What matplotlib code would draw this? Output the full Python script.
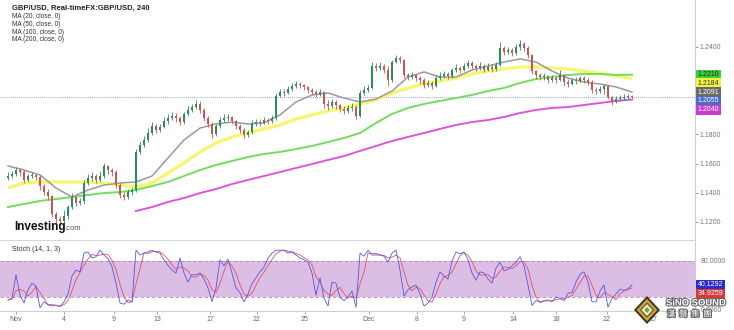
import numpy as np
import pandas as pd
import matplotlib
matplotlib.use("Agg")
import matplotlib.pyplot as plt
import matplotlib.transforms as mtransforms
import matplotlib.patheffects as pe
from matplotlib.patches import Polygon

plt.rcParams["font.family"] = ["Liberation Sans", "DejaVu Sans"]

# GBP/USD 4h bars (open of each bar = previous close)
first_open = 1.1501
close = [
    1.1515, 1.1529, 1.1556, 1.1542, 1.1488, 1.1515, 1.1522, 1.1508, 1.1446, 1.1405,
    1.1378, 1.1254, 1.1220, 1.1206, 1.1241, 1.1302, 1.1371, 1.1330, 1.1344, 1.1467,
    1.1501, 1.1515, 1.1488, 1.1515, 1.1584, 1.1556, 1.1542, 1.1453, 1.1385, 1.1371,
    1.1405, 1.1419, 1.1680, 1.1728, 1.1762, 1.1810, 1.1858, 1.1831, 1.1851, 1.1892,
    1.1913, 1.1927, 1.1913, 1.1885, 1.1940, 1.1968, 1.1988, 1.2009, 1.1968, 1.1913,
    1.1872, 1.1803, 1.1858, 1.1899, 1.1913, 1.1920, 1.1892, 1.1858, 1.1831, 1.1796,
    1.1817, 1.1872, 1.1885, 1.1879, 1.1899, 1.1892, 1.1913, 1.2064, 1.2091, 1.2084,
    1.2112, 1.2132, 1.2146, 1.2139, 1.2126, 1.2105, 1.2091, 1.2078, 1.2091, 1.2009,
    1.1995, 1.2023, 1.2002, 1.1975, 1.1961, 1.1982, 1.1988, 1.1927, 1.2084, 1.2105,
    1.2119, 1.2270, 1.2256, 1.2270, 1.2242, 1.2174, 1.2297, 1.2325, 1.2311, 1.2208,
    1.2194, 1.2208, 1.2187, 1.2174, 1.2139, 1.2153, 1.2132, 1.2187, 1.2201, 1.2215,
    1.2201, 1.2242, 1.2256, 1.2242, 1.2270, 1.2290, 1.2270, 1.2256, 1.2270, 1.2242,
    1.2263, 1.2249, 1.2277, 1.2393, 1.2366, 1.2379, 1.2359, 1.2400, 1.2421, 1.2393,
    1.2345, 1.2235, 1.2208, 1.2194, 1.2201, 1.2174, 1.2187, 1.2174, 1.2208, 1.2160,
    1.2146, 1.2174, 1.2167, 1.2187, 1.2174, 1.2160, 1.2105, 1.2098, 1.2112, 1.2132,
    1.2057, 1.2023, 1.2043, 1.2050, 1.2057, 1.2064, 1.2055,
]
high = [
    1.1542, 1.1549, 1.1577, 1.1570, 1.1556, 1.1529, 1.1542, 1.1529, 1.1522, 1.1460,
    1.1426, 1.1385, 1.1268, 1.1241, 1.1282, 1.1316, 1.1398, 1.1378, 1.1364, 1.1488,
    1.1529, 1.1542, 1.1529, 1.1549, 1.1604, 1.1591, 1.1570, 1.1556, 1.1467, 1.1405,
    1.1426, 1.1440, 1.1700, 1.1755, 1.1789, 1.1844, 1.1885, 1.1872, 1.1872, 1.1920,
    1.1940, 1.1954, 1.1947, 1.1927, 1.1954, 1.1995, 1.2009, 1.2036, 1.2030, 1.1982,
    1.1927, 1.1885, 1.1872, 1.1920, 1.1940, 1.1940, 1.1927, 1.1899, 1.1872, 1.1844,
    1.1831, 1.1899, 1.1906, 1.1906, 1.1920, 1.1913, 1.1934, 1.2084, 1.2112, 1.2112,
    1.2132, 1.2153, 1.2167, 1.2160, 1.2146, 1.2132, 1.2119, 1.2105, 1.2112, 1.2098,
    1.2036, 1.2043, 1.2036, 1.2009, 1.1995, 1.2002, 1.2016, 1.2002, 1.2105, 1.2132,
    1.2139, 1.2297, 1.2290, 1.2297, 1.2283, 1.2270, 1.2311, 1.2345, 1.2338, 1.2318,
    1.2222, 1.2229, 1.2215, 1.2201, 1.2187, 1.2174, 1.2167, 1.2208, 1.2229, 1.2235,
    1.2229, 1.2256, 1.2283, 1.2270, 1.2290, 1.2311, 1.2304, 1.2283, 1.2297, 1.2283,
    1.2290, 1.2283, 1.2297, 1.2434, 1.2407, 1.2400, 1.2393, 1.2421, 1.2448, 1.2434,
    1.2407, 1.2352, 1.2242, 1.2222, 1.2222, 1.2208, 1.2208, 1.2201, 1.2242, 1.2215,
    1.2180, 1.2187, 1.2194, 1.2201, 1.2201, 1.2187, 1.2174, 1.2126, 1.2132, 1.2146,
    1.2139, 1.2064, 1.2064, 1.2071, 1.2078, 1.2078, 1.2071,
]
low = [
    1.1488, 1.1501, 1.1515, 1.1515, 1.1467, 1.1474, 1.1501, 1.1488, 1.1419, 1.1385,
    1.1350, 1.1234, 1.1193, 1.1179, 1.1193, 1.1220, 1.1289, 1.1309, 1.1316, 1.1323,
    1.1453, 1.1481, 1.1467, 1.1474, 1.1501, 1.1529, 1.1515, 1.1433, 1.1364, 1.1350,
    1.1357, 1.1385, 1.1405, 1.1666, 1.1714, 1.1748, 1.1796, 1.1810, 1.1817, 1.1844,
    1.1872, 1.1899, 1.1885, 1.1865, 1.1872, 1.1927, 1.1954, 1.1975, 1.1947, 1.1892,
    1.1851, 1.1776, 1.1789, 1.1844, 1.1885, 1.1892, 1.1872, 1.1838, 1.1810, 1.1776,
    1.1783, 1.1803, 1.1858, 1.1858, 1.1872, 1.1872, 1.1879, 1.1899, 1.2057, 1.2064,
    1.2078, 1.2098, 1.2119, 1.2119, 1.2105, 1.2084, 1.2071, 1.2057, 1.2064, 1.1982,
    1.1968, 1.1982, 1.1975, 1.1954, 1.1940, 1.1947, 1.1961, 1.1906, 1.1920, 1.2071,
    1.2091, 1.2112, 1.2235, 1.2242, 1.2222, 1.2132, 1.2160, 1.2290, 1.2290, 1.2187,
    1.2174, 1.2180, 1.2167, 1.2146, 1.2119, 1.2126, 1.2112, 1.2126, 1.2174, 1.2187,
    1.2180, 1.2187, 1.2229, 1.2222, 1.2235, 1.2256, 1.2249, 1.2235, 1.2242, 1.2229,
    1.2235, 1.2229, 1.2235, 1.2270, 1.2345, 1.2352, 1.2338, 1.2345, 1.2379, 1.2373,
    1.2325, 1.2215, 1.2180, 1.2174, 1.2174, 1.2153, 1.2160, 1.2153, 1.2167, 1.2132,
    1.2126, 1.2139, 1.2146, 1.2160, 1.2153, 1.2139, 1.2084, 1.2078, 1.2084, 1.2078,
    1.2043, 1.2002, 1.2016, 1.2030, 1.2036, 1.2043, 1.2043,
]

# moving averages, one value every 4th bar
ma_step = 4
ma20 = [1.1584, 1.1556, 1.1522, 1.1433, 1.1371, 1.1419, 1.1453, 1.1467, 1.1474, 1.1515,
        1.1639, 1.1762, 1.1844, 1.1872, 1.1885, 1.1872, 1.1879, 1.1934, 1.2023, 1.2071,
        1.2084, 1.2050, 1.2023, 1.2043, 1.2098, 1.2194, 1.2229, 1.2194, 1.2194, 1.2242,
        1.2270, 1.2297, 1.2318, 1.2297, 1.2235, 1.2187, 1.2160, 1.2146, 1.2126, 1.2091]
ma50 = [1.1433, 1.1467, 1.1474, 1.1474, 1.1474, 1.1474, 1.1467, 1.1453, 1.1440, 1.1467,
        1.1536, 1.1604, 1.1680, 1.1741, 1.1783, 1.1810, 1.1838, 1.1865, 1.1906, 1.1934,
        1.1961, 1.1982, 1.2009, 1.2036, 1.2084, 1.2119, 1.2146, 1.2167, 1.2187, 1.2215,
        1.2235, 1.2249, 1.2263, 1.2263, 1.2256, 1.2249, 1.2235, 1.2222, 1.2201, 1.2184]
ma100 = [1.1302, 1.1323, 1.1344, 1.1357, 1.1371, 1.1385, 1.1398, 1.1405, 1.1419, 1.1446,
         1.1474, 1.1515, 1.1556, 1.1591, 1.1618, 1.1645, 1.1666, 1.1680, 1.1700, 1.1721,
         1.1748, 1.1776, 1.1810, 1.1879, 1.1940, 1.1982, 1.2009, 1.2030, 1.2050, 1.2071,
         1.2098, 1.2119, 1.2153, 1.2180, 1.2194, 1.2208, 1.2215, 1.2215, 1.2208, 1.2210]
ma200 = [np.nan] * 8 + [
         1.1275, 1.1302, 1.1337, 1.1364, 1.1398, 1.1426, 1.1460, 1.1488, 1.1515, 1.1542,
         1.1570, 1.1597, 1.1625, 1.1652, 1.1687, 1.1721, 1.1755, 1.1783, 1.1810, 1.1838,
         1.1865, 1.1885, 1.1899, 1.1920, 1.1947, 1.1968, 1.1982, 1.1988, 1.2002, 1.2016,
         1.2030, 1.2040]

# Stoch (14, 1, 3) %K per bar
stoch_k = [
    15, 18, 57, 23, 10, 32, 43, 38, 2, 12,
    7, 5, 6, 4, 12, 25, 55, 65, 62, 93,
    95, 85, 87, 98, 90, 84, 70, 43, 10, 8,
    15, 12, 98, 90, 93, 95, 98, 95, 93, 82,
    73, 65, 60, 85, 60, 45, 57, 57, 60, 50,
    35, 12, 35, 82, 72, 83, 60, 35, 27, 12,
    25, 42, 52, 62, 70, 85, 93, 98, 98, 98,
    93, 95, 90, 85, 82, 78, 60, 23, 52, 18,
    5, 45, 43, 20, 14, 20, 30, 3, 93, 88,
    98, 90, 90, 90, 88, 78, 93, 98, 65, 22,
    32, 37, 40, 25, 5, 10, 20, 45, 62, 55,
    50, 80, 95, 92, 95, 82, 60, 48, 62, 60,
    50, 43, 68, 78, 64, 66, 72, 78, 87, 72,
    40, 6, 14, 12, 14, 15, 12, 20, 18, 14,
    26, 28, 45, 58, 62, 45, 12, 12, 30, 40,
    3, 18, 25, 33, 31.0, 33.6485, 40.1292,
]

date_labels = ["Nov", "4", "9", "13", "17", "22", "25", "Dec", "8", "9", "14", "18", "22", "27"]
date_bars = [2, 14, 26.5, 37.25, 50.5, 62.25, 74.25, 90.25, 102.25, 114, 126.25, 137, 149.75, 161.5]
price_ticks = [1.12, 1.14, 1.16, 1.18, 1.24]
stoch_ticks = [0, 80]
ma_names = ["MA (20, close, 0)", "MA (50, close, 0)", "MA (100, close, 0)", "MA (200, close, 0)"]

W, H = 734, 330
fig = plt.figure(figsize=(W / 100, H / 100), dpi=100)
fig.patch.set_facecolor("white")


def fx(px):
    return px / W


def fy(py):
    return 1 - py / H


ax = fig.add_axes([0, fy(240), fx(695), 240 / H])
sx = fig.add_axes([0, fy(311), fx(695), 70 / H], sharex=ax)

# ---- price panel ----
c = np.array(close)
o = np.r_[first_open, c[:-1]]
hi = np.maximum(np.array(high), np.maximum(o, c))
lo = np.minimum(np.array(low), np.minimum(o, c))
x = np.arange(len(c))
up = c >= o
col = np.where(up, "#2f8a5c", "#c8554f")

ma_x = np.arange(0, len(c), ma_step)
ax.plot(ma_x, ma50, color="#f7f56a", lw=2.4, alpha=0.95, zorder=2, solid_capstyle="butt")
ax.plot(ma_x, ma100, color="#72dc5f", lw=1.4, zorder=2)
ax.plot(ma_x, ma200, color="#dc55dc", lw=1.4, zorder=2)
ax.plot(ma_x, ma20, color="#9a9a9a", lw=1.1, zorder=2)

ax.vlines(x, lo, hi, colors=col, lw=0.6, zorder=3)
body = np.maximum(np.abs(c - o), 0.00025)
ax.bar(x, body, bottom=np.minimum(o, c), width=0.62, color=col, lw=0, zorder=4)

ax.axhline(c[-1], color="#6a86b8", lw=0.6, ls=(0, (1, 1.5)), zorder=1)

ax.set_xlim(-2, 171.75)
ax.set_ylim(1.27224 - 0.000686 * 240, 1.27224)
ax.yaxis.tick_right()
ax.set_yticks(price_ticks)
ax.set_yticklabels([f"{t:.4f}" for t in price_ticks])
ax.tick_params(axis="y", length=2, width=0.6, color="#888888", labelsize=5,
               labelcolor="#777777", pad=1.5)
ax.tick_params(axis="x", bottom=False, labelbottom=False)
for s in ["top", "left"]:
    ax.spines[s].set_visible(False)
ax.spines["right"].set_color("#cfcfcf")
ax.spines["bottom"].set_color("#d6d6d6")
ax.spines["right"].set_linewidth(0.8)
ax.spines["bottom"].set_linewidth(0.8)

# value boxes on the price scale, stacked so they do not overlap
tr = mtransforms.blended_transform_factory(ax.transAxes, ax.transData)
boxes = [(ma100[-1], "#3dcc3d", "#222222"), (ma50[-1], "#f2f23a", "#333333"),
         (ma20[-1], "#6a6a6a", "white"), (c[-1], "#4b6cc0", "white"),
         (ma200[-1], "#c93ccf", "white")]
gap = 0.0060
prev = None
for val, bg, fg in boxes:
    pos = val if prev is None else min(val, prev - gap)
    prev = pos
    ax.text(1.004, pos, f"{val:.4f}", transform=tr, fontsize=5, color=fg,
            va="center", ha="left", clip_on=False, zorder=6,
            bbox=dict(boxstyle="square,pad=0.22", fc=bg, ec="none"))

# ---- stochastic panel ----
k = pd.Series(stoch_k, dtype=float)
d = k.rolling(3, min_periods=1).mean()
sx.axhspan(20, 80, color="#dcbde3", lw=0, zorder=0)
for lvl in (20, 80):
    sx.axhline(lvl, color="#a98aa8", lw=0.6, ls=(0, (4, 3)), zorder=1)
sx.plot(x, d, color="#e0506a", lw=0.6, zorder=2)
sx.plot(x, k, color="#5a55e0", lw=0.6, zorder=3)
sx.set_ylim(-3.3, 113.3)
sx.yaxis.tick_right()
sx.set_yticks(stoch_ticks)
sx.set_yticklabels([f"{t:.4f}" for t in stoch_ticks])
sx.tick_params(axis="y", length=0, labelsize=5, labelcolor="#777777", pad=4)
sx.set_xticks(date_bars)
sx.set_xticklabels(date_labels)
sx.tick_params(axis="x", length=2, width=0.6, color="#999999", labelsize=5,
               labelcolor="#666666", pad=1.5)
for s in ["top", "left"]:
    sx.spines[s].set_visible(False)
sx.spines["right"].set_color("#cfcfcf")
sx.spines["bottom"].set_color("#cfcfcf")
sx.spines["right"].set_linewidth(0.8)
sx.spines["bottom"].set_linewidth(0.8)
sx.text(0.017, 0.86, "Stoch (14, 1, 3)", transform=sx.transAxes, fontsize=5, color="#333333")

tr2 = mtransforms.blended_transform_factory(sx.transAxes, sx.transData)
k_last, d_last = k.iloc[-1], d.iloc[-1]
d_pos = min(d_last, k_last - 15)
sx.text(1.004, k_last, f"{k_last:.4f}", transform=tr2, fontsize=5, color="white",
        va="center", ha="left", clip_on=False, zorder=6,
        bbox=dict(boxstyle="square,pad=0.22", fc="#2b2bd6", ec="none"))
sx.text(1.004, d_pos, f"{d_last:.4f}", transform=tr2, fontsize=5, color="white",
        va="center", ha="left", clip_on=False, zorder=6,
        bbox=dict(boxstyle="square,pad=0.22", fc="#d83a3a", ec="none"))

# ---- header text ----
fig.text(fx(12), fy(8), "GBP/USD, Real-timeFX:GBP/USD, 240", fontsize=5.5,
         fontweight="bold", color="#222222", va="center")
for i, name in enumerate(ma_names):
    fig.text(fx(12), fy(17 + 7.5 * i), name, fontsize=4.7, color="#333333", va="center")

# Investing.com mark
fig.text(fx(14), fy(227), "Investing", fontsize=8.5, fontweight="bold", color="#111111",
         va="center")
fig.text(fx(64), fy(229), ".com", fontsize=5.5, color="#555555", va="center")

# SiNO SOUND mark
cx, cy, rw, rh = 647, 310, 13, 14
for scale, colr in [(1.0, "#3a3420"), (0.8, "#c9a23c"), (0.55, "#6b5a22"),
                    (0.42, "#eeeedc"), (0.22, "#7aa33c")]:
    pts = [(fx(cx), fy(cy - rh * scale)), (fx(cx + rw * scale), fy(cy)),
           (fx(cx), fy(cy + rh * scale)), (fx(cx - rw * scale), fy(cy))]
    fig.add_artist(Polygon(pts, closed=True, transform=fig.transFigure,
                           fc=colr, ec="none", zorder=10))
stroke = [pe.withStroke(linewidth=1.6, foreground="#666666")]
fig.text(fx(666), fy(303), "SiNO SOUND", fontsize=6.8, fontweight="bold", color="white",
         va="center", zorder=11, path_effects=stroke)
fig.text(fx(667), fy(314), "漢  聲  集  團", fontsize=6, color="white", va="center",
         zorder=11, family=["Noto Sans CJK TC", "DejaVu Sans"], path_effects=stroke)

fig.savefig("out.png", dpi=100)
